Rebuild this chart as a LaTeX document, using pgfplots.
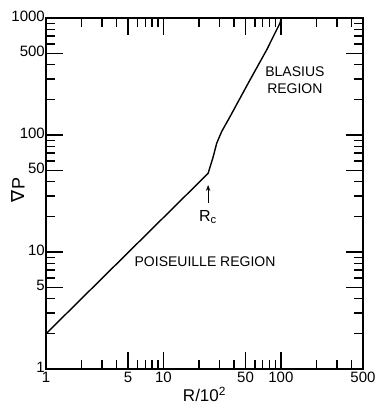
\documentclass[border=0pt]{standalone}
\usepackage{fontspec}
\setmainfont{Liberation Sans}
\newfontfamily\dejavu{DejaVu Sans}
\usepackage{pgfplots}
\pgfplotsset{compat=1.18}
\usetikzlibrary{arrows.meta}
\begin{document}
\begin{tikzpicture}
\path[use as bounding box] (-46pt,-35pt) rectangle (333pt,369pt);
\begin{axis}[
 at={(0,0)}, anchor=south west,
 scale only axis, width=317pt, height=351pt,
 xmode=log, ymode=log,
 xmin=1, xmax=500, ymin=1, ymax=1000,
 xtick={1,5,10,50,100,500},
 xticklabels={1,5,10,50,100,500},
 minor xtick={2,3,4,6,7,8,9,20,30,40,60,70,80,90,200,300,400},
 ytick={1,5,10,50,100,500,1000},
 yticklabels={1,5,10,50,100,500,1000},
 minor ytick={2,3,4,6,7,8,9,20,30,40,60,70,80,90,200,300,400,600,700,800,900},
 tick align=inside,
 xtick pos=both, ytick pos=both,
 major tick length=17pt, minor tick length=9pt,
 every tick/.style={draw=black, line width=1.4pt},
 axis line style={line width=1.4pt},
 ticklabel style={font=\fontsize{15}{15}\selectfont},
 xticklabel style={inner sep=1pt, yshift=-2pt},
 yticklabel style={inner sep=1pt, yshift=1.5pt},
 xlabel={R/10\textsuperscript{2}},
 xlabel style={font=\fontsize{17}{17}\selectfont, at={(axis description cs:0.5,-0.072)}, anchor=center},
 ylabel={{\dejavu ∇}P},
 ylabel style={font=\fontsize{18}{18}\selectfont, at={(axis description cs:-0.088,0.51)}, anchor=center},
]
\addplot[black, line width=1.4pt] coordinates {
(1,2) (24,47) (26.5,65) (28.4,85) (31.3,107) (36.8,143) (54.5,295) (75.5,532) (98,900) (101,1000)
};
\node[font=\fontsize{14}{17}\selectfont, align=center] at (axis cs:131.5,295) {BLASIUS\\REGION};
\node[font=\fontsize{14}{17}\selectfont] at (axis cs:22.6,8.2) {POISEUILLE REGION};
\node[font=\fontsize{16}{16}\selectfont] at (axis cs:23.9,19.9) {R\textsubscript{c}};
\draw[-{Stealth[length=6pt,width=4.5pt]}, line width=1.1pt] (axis cs:24,26.2) -- (axis cs:24,37.4);
\end{axis}
\end{tikzpicture}
\end{document}
